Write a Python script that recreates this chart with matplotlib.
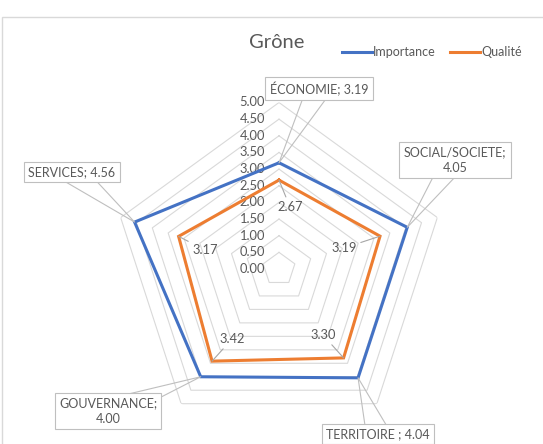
import numpy as np
import matplotlib
matplotlib.use('Agg')
import matplotlib.pyplot as plt
from matplotlib.patches import Rectangle

plt.rcParams['font.family'] = ['Lato', 'DejaVu Sans']

# Data
categories = ['ÉCONOMIE', 'SOCIAL/SOCIETE', 'TERRITOIRE ', 'GOUVERNANCE', 'SERVICES']
importance = [3.19, 4.05, 4.04, 4.00, 4.56]
qualite = [2.67, 3.19, 3.30, 3.42, 3.17]
levels = [0.0, 0.5, 1.0, 1.5, 2.0, 2.5, 3.0, 3.5, 4.0, 4.5, 5.0]

BLUE = '#4472C4'
ORANGE = '#ED7D31'
GRID = '#d9d9d9'
TXT = '#595959'
FS = 9.0

W, H = 543, 444
fig = plt.figure(figsize=(W / 100, H / 100), dpi=100)

# chart area border (cropped on right / bottom)
fig.add_artist(Rectangle((1.5 / W, -0.1), 1.2, (H - 17) / H + 0.1,
                         transform=fig.transFigure, fill=False, ec=GRID, lw=1))

# radar axes, centre at (279, 269) px, 33.3 px per unit
cx, cy, R = 279, 269, 166.5
ax = fig.add_axes([(cx - R) / W, (H - cy - R) / H, 2 * R / W, 2 * R / H],
                  projection='polar')
ax.set_theta_offset(np.pi / 2)
ax.set_theta_direction(-1)
ax.set_ylim(0, 5)
ax.grid(False)
ax.spines['polar'].set_visible(False)
ax.set_xticks([])
ax.set_yticks([])
ax.patch.set_visible(False)

theta = np.linspace(0, 2 * np.pi, len(categories), endpoint=False)
theta_c = np.append(theta, theta[0])

# pentagon gridlines
for lv in levels[1:]:
    ax.plot(theta_c, [lv] * len(theta_c), color=GRID, lw=0.8, zorder=1)

# radial tick labels
for lv in levels:
    ax.annotate(f'{lv:.2f}', xy=(0, lv), xytext=(-14, 0), textcoords='offset pixels',
                ha='right', va='center', fontsize=FS + 0.3, color=TXT, zorder=2)

imp_c = np.append(importance, importance[0])
qua_c = np.append(qualite, qualite[0])
ax.plot(theta_c, imp_c, color=BLUE, lw=2.2, solid_joinstyle='miter', zorder=3, label='Importance')
ax.plot(theta_c, qua_c, color=ORANGE, lw=2.2, solid_joinstyle='miter', zorder=3, label='Qualité')

# callout labels for Importance (positions in figure pixels)
imp_pos = [(319, 355.5), (455, 284), (378, 10), (108, 33), (72, 272)]
imp_sep = [' ', '\n', ' ', '\n', ' ']
for t, v, cat, sep, pos in zip(theta, importance, categories, imp_sep, imp_pos):
    ax.annotate(f'{cat};{sep}{v:.2f}', xy=(t, v), xytext=pos, textcoords='figure pixels',
                ha='center', va='center', fontsize=FS, color=TXT, linespacing=1.3,
                bbox=dict(boxstyle='square,pad=0.35', fc='white', ec='#bfbfbf', lw=0.8),
                arrowprops=dict(arrowstyle='wedge,tail_width=1.9,shrink_factor=0.5',
                                fc='none', ec='#bfbfbf', lw=0.8,
                                shrinkA=0, shrinkB=0, patchA=None),
                annotation_clip=False, zorder=5)

# plain labels for Qualité
qua_pos = [(290, 237), (344, 196), (323, 109), (232, 105), (205, 194)]
for t, v, pos in zip(theta, qualite, qua_pos):
    ax.annotate(f'{v:.2f}', xy=(t, v), xytext=pos, textcoords='figure pixels',
                ha='center', va='center', fontsize=FS + 0.3, color=TXT,
                arrowprops=dict(arrowstyle='-', color='#a6a6a6', lw=0.8,
                                shrinkA=1, shrinkB=0),
                annotation_clip=False, zorder=4)

# title and legend
fig.text(277 / W, 1 - 43 / H, 'Grône', fontsize=14.5, color=TXT, ha='center', va='center')
handles, labels = ax.get_legend_handles_labels()
fig.legend(handles, labels, loc='center left', bbox_to_anchor=(342 / W, 1 - 52 / H),
           ncol=2, frameon=False, fontsize=FS, labelcolor=TXT, borderpad=0,
           borderaxespad=0, handlelength=2.4, handletextpad=0.1, columnspacing=1.1)

fig.savefig('out.png', dpi=100)
